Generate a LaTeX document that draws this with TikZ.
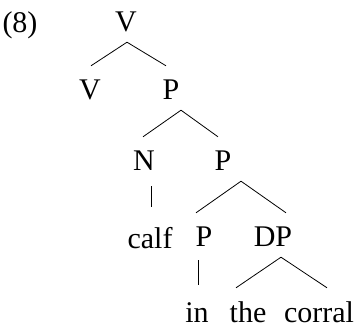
\documentclass[tikz,border=0pt]{standalone}
\usepackage{fontspec}
\setmainfont{Liberation Serif}
\begin{document}
\begin{tikzpicture}[x=1pt,y=1pt,
  lab/.style={anchor=base,inner xsep=0pt,inner ysep=10pt,text height=24pt,text depth=0pt,font=\fontsize{30}{36}\selectfont},
  br/.style={line width=0.8pt}]
\useasboundingbox (0,0) rectangle (358,-328);
\node[lab] (ex) at (20,-33) {(8)};
\node[lab] (V0) at (126,-32) {V};
\node[lab] (V1) at (90,-100) {V};
\node[lab] (P1) at (171,-100) {P};
\node[lab] (N) at (144,-171) {N};
\node[lab] (P2) at (223,-171) {P};
\node[lab] (calf) at (150,-248) {calf};
\node[lab] (P3) at (204,-247) {P};
\node[lab] (DP) at (273,-247) {DP};
\node[lab] (in) at (197,-322) {in};
\node[lab] (the) at (248,-322) {the};
\node[lab] (corral) at (319,-322) {corral};
\draw[br] ([xshift=1pt]V0.south) -- ([xshift=1pt]V1.north);
\draw[br] ([xshift=1pt]V0.south) -- ([xshift=-5pt]P1.north);
\draw[br] ([xshift=10pt]P1.south) -- ([xshift=-1pt]N.north);
\draw[br] ([xshift=10pt]P1.south) -- ([xshift=-5pt]P2.north);
\draw[br,shorten <=5pt,shorten >=7pt] ([xshift=7pt]N.south) -- ([xshift=1pt]calf.north);
\draw[br] ([xshift=18pt]P2.south) -- ([xshift=-8pt]P3.north);
\draw[br] ([xshift=18pt]P2.south) -- ([xshift=13pt]DP.north);
\draw[br,shorten <=3pt,shorten >=3pt] ([xshift=-6pt]P3.south) -- ([xshift=1pt]in.north);
\draw[br] ([xshift=8pt]DP.south) -- ([xshift=-12pt]the.north);
\draw[br] ([xshift=8pt]DP.south) -- ([xshift=8pt]corral.north);
\end{tikzpicture}
\end{document}
